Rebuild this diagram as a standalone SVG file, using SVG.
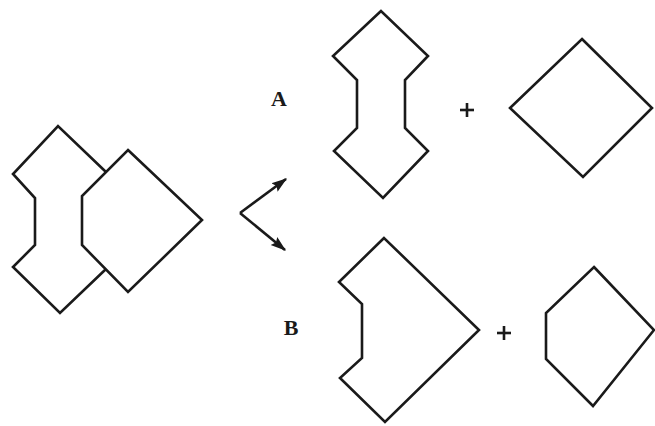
<svg xmlns="http://www.w3.org/2000/svg" width="655" height="426" viewBox="0 0 655 426">
<style>
.s{fill:none;stroke:#1a1a1a;stroke-width:2.6;stroke-linejoin:miter}
.l{font-family:"Liberation Serif",serif;font-weight:bold;font-size:22px;fill:#1a1a1a;text-anchor:middle}
.p{stroke:#1a1a1a;stroke-width:2.6}
.c{fill:none;stroke:#1a1a1a;stroke-width:2.6}
</style>
<defs>
<marker id="ah" viewBox="0 0 12 10" refX="11" refY="5" markerWidth="6" markerHeight="5" orient="auto" markerUnits="strokeWidth">
<path d="M0,1 L12,5 L0,9 L2,5 Z" fill="#1a1a1a"/>
</marker>
</defs>
<rect width="655" height="426" fill="#fff"/>
<g id="combined">
<polyline class="s" points="106,172 58,126 13,174 35,198 35,245 13,267 60,313 106,269"/>
<polygon class="s" points="128,150 202,220 128,292 82,245 82,196"/>
</g>
<g id="shapeA1">
<polygon class="s" points="381,11 333,56 357,80 357,128 334,151 383,198 428,151 405,128 405,80 428,56"/>
</g>
<g id="shapeA2">
<polygon class="s" points="582,39 652,108 583,177 510,108"/>
</g>
<g id="shapeB1">
<polygon class="s" points="384,238 339,282 362,304 362,358 340,378 385,422 479,330"/>
</g>
<g id="shapeB2">
<polygon class="s" points="594,267 654,330 593,406 546,359 546,313"/>
</g>
<g id="connectors">
<line class="c" x1="240" y1="213" x2="286" y2="179" marker-end="url(#ah)"/>
<line class="c" x1="240" y1="213" x2="285" y2="250" marker-end="url(#ah)"/>
</g>
<text class="l" x="279" y="106">A</text>
<text class="l" x="291" y="335">B</text>
<g id="plusA"><line class="p" x1="460" y1="110" x2="474" y2="110"/><line class="p" x1="467" y1="103" x2="467" y2="117"/></g>
<g id="plusB"><line class="p" x1="497" y1="333" x2="511" y2="333"/><line class="p" x1="504" y1="326" x2="504" y2="340"/></g>
</svg>
